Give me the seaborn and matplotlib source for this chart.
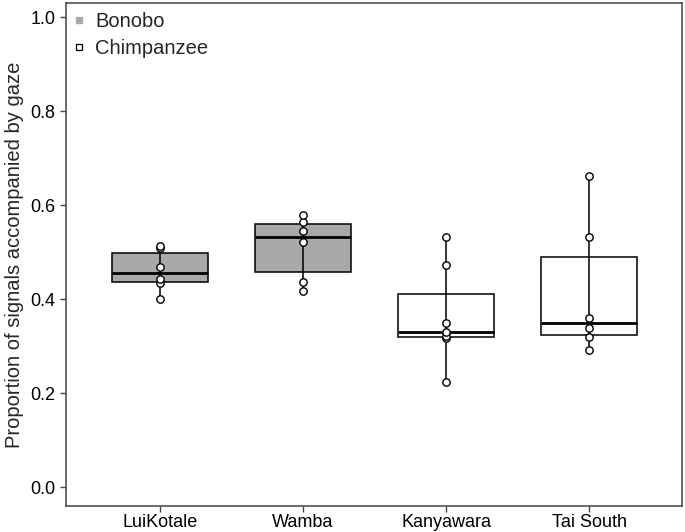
import pandas as pd
import numpy as np
import seaborn as sns
import matplotlib.pyplot as plt
from matplotlib.lines import Line2D

# sites and the proportion of signals accompanied by gaze
sites = ["LuiKotale", "Wamba", "Kanyawara", "Tai South"]
species = ["Bonobo", "Bonobo", "Chimpanzee", "Chimpanzee"]
luikotale = [0.401, 0.435, 0.442, 0.469, 0.508, 0.512]
wamba = [0.418, 0.437, 0.521, 0.545, 0.564, 0.579]
kanyawara = [0.223, 0.318, 0.322, 0.330, 0.350, 0.472, 0.533]
tai_south = [0.291, 0.320, 0.338, 0.359, 0.533, 0.662]
yticks = [0.0, 0.2, 0.4, 0.6, 0.8, 1.0]

species_colors = {"Bonobo": "#a9a9a9", "Chimpanzee": "white"}

values = [luikotale, wamba, kanyawara, tai_south]
df = pd.DataFrame({
    "site": np.repeat(sites, [len(v) for v in values]),
    "prop": np.concatenate(values),
})
site_palette = {s: species_colors[sp] for s, sp in zip(sites, species)}

sns.set_style("ticks")
plt.rcParams['font.family'] = ['Liberation Sans', 'DejaVu Sans']

fig = plt.figure(figsize=(6.85, 5.32), dpi=100)
ax = fig.add_axes([0.0964, 0.0489, 0.8992, 0.9455])

# boxes (whiskers replaced by a min-max line below)
sns.boxplot(data=df, x="site", y="prop", hue="site", order=sites, palette=site_palette,
            legend=False, width=0.67, showfliers=False, whis=1.5, ax=ax,
            boxprops=dict(edgecolor="black", linewidth=1.1),
            medianprops=dict(color="black", linewidth=2),
            whiskerprops=dict(linewidth=0), showcaps=False, zorder=1)

# line from min to max through each box
rng = df.groupby("site")["prop"].agg(["min", "max"]).reindex(sites)
ax.vlines(np.arange(len(sites)), rng["min"], rng["max"], color="black", linewidth=1.1, zorder=3)

# all the individual points
sns.stripplot(data=df, x="site", y="prop", order=sites, jitter=False, ax=ax,
              color="white", edgecolor="black", linewidth=1, size=5.3, zorder=4)

ax.set_xlim(-0.657, 3.65)
ax.set_ylim(-0.04, 1.03)
ax.set_yticks(yticks)
ax.set_yticklabels([f"{t:.1f}" for t in yticks])
ax.set_xlabel("")
ax.set_ylabel("Proportion of signals accompanied by gaze", fontsize=14.5, labelpad=5)
ax.tick_params(axis="both", labelsize=13, length=4, width=1, color="#444444", labelcolor="black")
ax.tick_params(axis="x", pad=1.5)
for sp in ax.spines.values():
    sp.set_visible(True)
    sp.set_color("#444444")
    sp.set_linewidth(1.1)

handles = [
    Line2D([], [], marker="s", linestyle="", markersize=5, markerfacecolor="#a9a9a9",
           markeredgecolor="#a9a9a9", label="Bonobo"),
    Line2D([], [], marker="s", linestyle="", markersize=5, markerfacecolor="white",
           markeredgecolor="black", markeredgewidth=0.9, label="Chimpanzee"),
]
ax.legend(handles=handles, loc="upper left", frameon=False, fontsize=14.5,
          handlelength=0.6, handletextpad=0.5, labelspacing=0.4,
          borderaxespad=0.2, borderpad=0.25, bbox_to_anchor=(-0.003, 1.0))

fig.savefig("out.png", dpi=100)
